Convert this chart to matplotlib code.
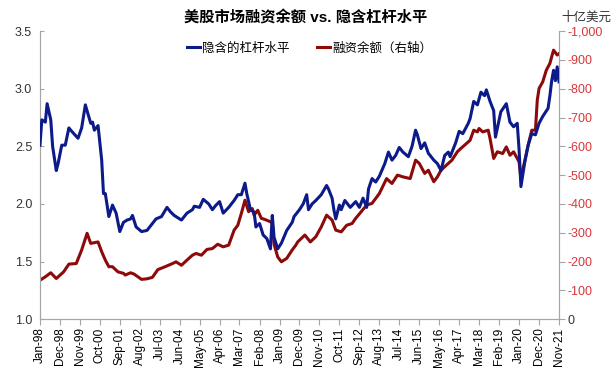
import matplotlib
matplotlib.use('Agg')
import matplotlib.pyplot as plt
import pandas as pd

plt.rcParams['font.family'] = ['Liberation Sans', 'Noto Sans CJK SC', 'DejaVu Sans']

# implied leverage (left axis)
lev_dates = ['1998-01', '1998-02', '1998-04', '1998-05', '1998-07', '1998-08', '1998-10', '1998-11',
             '1999-01', '1999-03', '1999-05', '1999-06', '1999-10', '1999-12', '2000-02', '2000-05',
             '2000-06', '2000-07', '2000-09', '2000-11', '2000-12', '2001-01', '2001-03', '2001-05',
             '2001-07', '2001-09', '2001-11', '2002-01', '2002-03', '2002-04', '2002-06', '2002-09',
             '2002-12', '2003-03', '2003-05', '2003-08', '2003-11', '2004-01', '2004-03', '2004-07',
             '2004-10', '2005-01', '2005-02', '2005-05', '2005-07', '2005-10', '2005-12', '2006-02',
             '2006-04', '2006-06', '2006-09', '2006-12', '2007-02', '2007-04', '2007-06', '2007-07',
             '2007-09', '2007-11', '2007-12', '2008-02', '2008-04', '2008-06', '2008-08', '2008-09',
             '2008-10', '2008-12', '2009-02', '2009-05', '2009-08', '2009-09', '2009-12', '2010-02',
             '2010-04', '2010-05', '2010-07', '2010-09', '2010-12', '2011-03', '2011-04', '2011-06',
             '2011-07', '2011-08', '2011-10', '2011-11', '2012-01', '2012-04', '2012-07', '2012-09',
             '2012-11', '2013-01', '2013-02', '2013-04', '2013-06', '2013-08', '2013-11', '2014-01',
             '2014-03', '2014-05', '2014-07', '2014-09', '2014-12', '2015-02', '2015-04', '2015-05',
             '2015-07', '2015-09', '2015-11', '2016-02', '2016-04', '2016-06', '2016-08', '2016-10',
             '2016-11', '2017-02', '2017-04', '2017-06', '2017-09', '2017-10', '2017-12', '2018-02',
             '2018-04', '2018-06', '2018-07', '2018-09', '2018-11', '2018-12', '2019-02', '2019-03',
             '2019-06', '2019-08', '2019-10', '2019-12', '2020-01', '2020-02', '2020-04', '2020-06',
             '2020-08', '2020-10', '2020-12', '2021-02', '2021-05', '2021-06', '2021-07', '2021-08',
             '2021-09', '2021-10', '2021-11']
leverage = [2.51, 2.73, 2.71, 2.87, 2.73, 2.50, 2.29, 2.35,
            2.51, 2.51, 2.66, 2.64, 2.57, 2.66, 2.86, 2.70,
            2.71, 2.64, 2.68, 2.38, 2.09, 2.09, 1.89, 1.99,
            1.92, 1.76, 1.84, 1.86, 1.87, 1.90, 1.80, 1.76,
            1.77, 1.83, 1.87, 1.89, 1.97, 1.93, 1.90, 1.86,
            1.92, 1.95, 1.98, 1.97, 2.04, 2.00, 1.95, 1.99,
            2.02, 1.92, 1.97, 2.03, 2.08, 2.08, 2.18, 2.09,
            1.95, 1.93, 1.80, 1.83, 1.73, 1.70, 1.61, 1.90,
            1.71, 1.61, 1.66, 1.77, 1.84, 1.89, 1.95, 2.00,
            2.08, 1.95, 2.00, 2.03, 2.08, 2.16, 2.13, 2.05,
            1.95, 1.87, 1.99, 1.95, 2.03, 1.97, 2.02, 1.97,
            2.05, 1.97, 2.13, 2.22, 2.19, 2.24, 2.35, 2.45,
            2.38, 2.42, 2.49, 2.45, 2.41, 2.50, 2.64, 2.60,
            2.48, 2.53, 2.44, 2.38, 2.35, 2.29, 2.42, 2.45,
            2.41, 2.53, 2.63, 2.61, 2.70, 2.74, 2.89, 2.86,
            2.97, 2.94, 2.99, 2.89, 2.81, 2.58, 2.73, 2.80,
            2.87, 2.71, 2.67, 2.70, 2.47, 2.15, 2.35, 2.51,
            2.61, 2.60, 2.70, 2.76, 2.83, 2.94, 3.07, 3.16,
            3.07, 3.19, 3.06]

# margin debt, billion USD (right axis)
debt_dates = ['1998-01', '1998-04', '1998-07', '1998-10', '1999-02', '1999-05', '1999-09', '1999-12',
              '2000-03', '2000-05', '2000-09', '2000-11', '2001-01', '2001-03', '2001-05', '2001-08',
              '2001-11', '2001-12', '2002-03', '2002-05', '2002-09', '2002-12', '2003-03', '2003-06',
              '2003-10', '2004-02', '2004-04', '2004-07', '2004-10', '2005-01', '2005-03', '2005-06',
              '2005-09', '2005-12', '2006-03', '2006-06', '2006-09', '2006-12', '2007-02', '2007-04',
              '2007-06', '2007-08', '2007-10', '2007-11', '2008-01', '2008-03', '2008-05', '2008-08',
              '2008-09', '2008-10', '2008-12', '2009-02', '2009-05', '2009-08', '2009-10', '2009-11',
              '2010-03', '2010-06', '2010-09', '2010-12', '2011-03', '2011-06', '2011-08', '2011-11',
              '2012-02', '2012-05', '2012-07', '2012-10', '2013-01', '2013-04', '2013-06', '2013-08',
              '2013-12', '2014-03', '2014-06', '2014-09', '2015-01', '2015-04', '2015-06', '2015-09',
              '2015-11', '2016-02', '2016-04', '2016-06', '2016-09', '2016-12', '2017-03', '2017-05',
              '2017-07', '2017-10', '2017-12', '2018-02', '2018-03', '2018-05', '2018-08', '2018-09',
              '2018-11', '2019-01', '2019-04', '2019-06', '2019-08', '2019-10', '2019-12', '2020-01',
              '2020-02', '2020-04', '2020-06', '2020-08', '2020-10', '2020-11', '2020-12', '2021-02',
              '2021-04', '2021-06', '2021-07', '2021-08', '2021-10', '2021-11']
margin_debt = [135, 147, 161, 141, 164, 191, 193, 240,
               298, 263, 268, 234, 205, 182, 182, 164,
               159, 153, 161, 156, 138, 140, 145, 172,
               182, 193, 199, 187, 205, 222, 228, 222,
               242, 245, 260, 251, 257, 309, 326, 367,
               413, 373, 384, 361, 378, 350, 346, 338,
               332, 260, 216, 199, 211, 240, 257, 268,
               292, 268, 286, 320, 361, 344, 309, 303,
               326, 332, 350, 373, 396, 402, 419, 436,
               488, 471, 500, 494, 488, 552, 541, 506,
               517, 477, 494, 517, 535, 552, 581, 593,
               604, 621, 656, 650, 662, 650, 656, 627,
               558, 581, 575, 598, 569, 581, 558, 546,
               488, 546, 604, 656, 656, 760, 801, 824,
               864, 888, 911, 934, 917, 922]

x_tick_labels = ['Jan-98', 'Dec-98', 'Nov-99', 'Oct-00', 'Sep-01', 'Aug-02', 'Jul-03', 'Jun-04',
                 'May-05', 'Apr-06', 'Mar-07', 'Feb-08', 'Jan-09', 'Dec-09', 'Nov-10', 'Oct-11',
                 'Sep-12', 'Aug-13', 'Jul-14', 'Jun-15', 'May-16', 'Apr-17', 'Mar-18', 'Feb-19',
                 'Jan-20', 'Dec-20', 'Nov-21']
left_ticks = [1.0, 1.5, 2.0, 2.5, 3.0, 3.5]
right_ticks = [0, 100, 200, 300, 400, 500, 600, 700, 800, 900, 1000]
right_tick_labels = ['0', '-100', '-200', '-300', '-400', '-500', '-600', '-700', '-800', '-900', '-1,000']

blue = '#0c1a8a'
darkred = '#8c0a0a'
labelred = '#d9363a'
grey = '#a6a6a6'

fig = plt.figure(figsize=(6.15, 3.75), dpi=100)
ax = fig.add_axes([0.065, 0.149, 0.844, 0.768])
ax2 = ax.twinx()

l1, = ax.plot(pd.to_datetime(lev_dates), leverage, color=blue, lw=2.2, label='隐含的杠杆水平', zorder=3)
l2, = ax2.plot(pd.to_datetime(debt_dates), margin_debt, color=darkred, lw=2.2, label='融资余额（右轴）')
ax.set_zorder(ax2.get_zorder() + 1)
ax.patch.set_visible(False)

ax.set_ylim(1.0, 3.5)
ax.set_yticks(left_ticks)
ax.set_yticklabels(['%.1f' % t for t in left_ticks], fontsize=9, color='#333333')
ax2.set_ylim(0, 1000)
ax2.set_yticks(right_ticks)
ax2.set_yticklabels(right_tick_labels, fontsize=9)
for lab in ax2.get_yticklabels()[1:]:
    lab.set_color(labelred)
ax2.get_yticklabels()[0].set_color('#333333')

tick_pos = pd.date_range('1998-01-01', periods=len(x_tick_labels), freq='11MS')
ax.set_xticks(tick_pos)
ax.set_xticklabels(x_tick_labels, rotation=90, fontsize=8.5)
ax.set_xlim(tick_pos[0], tick_pos[-1])

for a in (ax, ax2):
    a.spines['top'].set_visible(False)
    for s in ('left', 'right', 'bottom'):
        a.spines[s].set_color(grey)
ax.tick_params(axis='y', direction='in', length=3, color=grey, pad=18)
ax.tick_params(axis='x', direction='out', length=4, color=grey, pad=2)
ax2.tick_params(axis='y', direction='out', length=4, color=grey, pad=2)
for lab in ax.get_yticklabels():
    lab.set_horizontalalignment('left')

ax.legend(handles=[l1, l2], loc='upper center', bbox_to_anchor=(0.52, 1.0), ncol=2,
          frameon=False, fontsize=9, handlelength=1.0, handletextpad=0.2, columnspacing=2.2)

fig.text(0.497, 0.952, '美股市场融资余额 vs. 隐含杠杆水平', ha='center', va='center',
         fontsize=11, fontweight='bold')
fig.text(0.994, 0.952, '十亿美元', ha='right', va='center', fontsize=9, color='#333333')

fig.savefig('out.png', dpi=100)
